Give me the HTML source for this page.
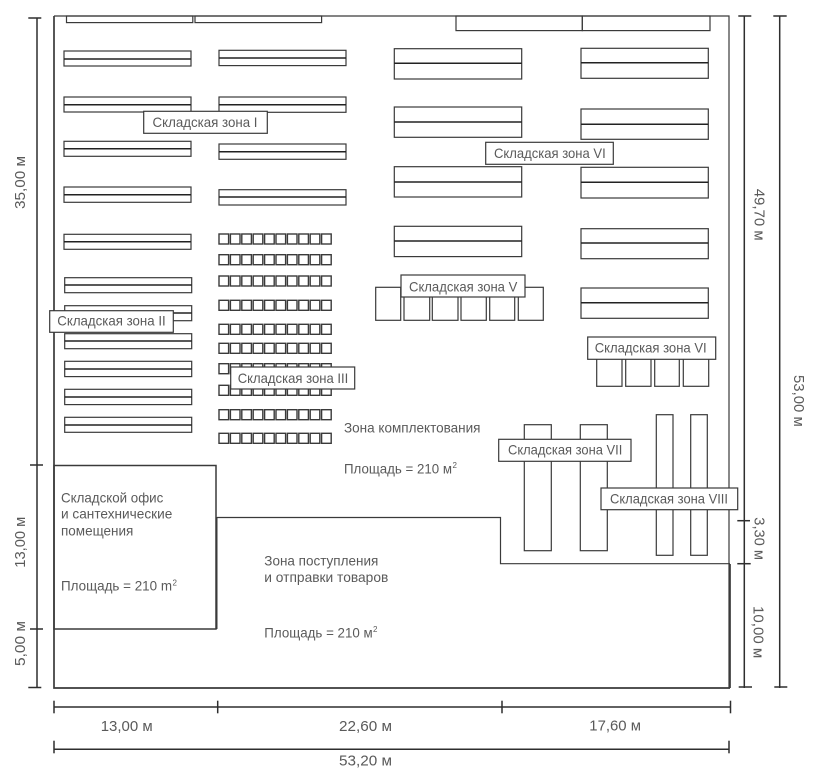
<!DOCTYPE html>
<html lang="ru">
<head>
<meta charset="utf-8">
<title>Складская схема</title>
<style>
html,body{margin:0;padding:0;background:#fff;}
svg{display:block;}
text{font-family:"Liberation Sans","DejaVu Sans",sans-serif;font-size:14px;fill:#5a5a5a;}
.dt{font-size:15px;}
.sup{font-size:8px;}
.s rect,.s line,.s path{fill:none;stroke:#3a3a3a;stroke-width:1.2;}
.d line{stroke:#2e2e2e;stroke-width:1.5;fill:none;}
.l{fill:#fff;stroke:#3a3a3a;stroke-width:1.2;}
.m{stroke:#222;stroke-width:1.5;}
</style>
</head>
<body>
<svg xmlns="http://www.w3.org/2000/svg" width="818" height="778" viewBox="0 0 818 778">
<defs>
<g id="row" fill="none" stroke="#3a3a3a" stroke-width="1.4">
<rect x="219" y="0" width="9.6" height="10"/>
<rect x="230.4" y="0" width="9.6" height="10"/>
<rect x="241.8" y="0" width="9.6" height="10"/>
<rect x="253.2" y="0" width="9.6" height="10"/>
<rect x="264.6" y="0" width="9.6" height="10"/>
<rect x="276" y="0" width="9.6" height="10"/>
<rect x="287.4" y="0" width="9.6" height="10"/>
<rect x="298.8" y="0" width="9.6" height="10"/>
<rect x="310.2" y="0" width="9.6" height="10"/>
<rect x="321.6" y="0" width="9.6" height="10"/>
</g>
</defs>

<!-- building outline -->
<g class="s">
<path d="M54 16H729V688"/>
<path d="M54 16V688H730" style="stroke-width:1.7"/>
<path d="M730 564V688" style="stroke-width:1.7"/>
<rect x="54" y="465.5" width="162" height="163.5" style="stroke-width:1.5"/>
<path d="M217 517.5H500.5V563.7H730"/>
<path d="M216.7 517V629" style="stroke-width:1.6"/>

<!-- top bins -->
<rect x="66.5" y="16" width="126.3" height="6.6"/>
<rect x="195" y="16" width="126.6" height="6.6"/>
<rect x="456" y="16" width="126.3" height="14.6"/>
<rect x="582.3" y="16" width="127.7" height="14.6"/>

<!-- column 1 racks -->
<rect x="64" y="51" width="127" height="15"/>
<rect x="64" y="97" width="127" height="15"/>
<rect x="64" y="141.3" width="127" height="15"/>
<rect x="64" y="187" width="127" height="15.3"/>
<rect x="64" y="234.3" width="127" height="15"/>
<rect x="64.7" y="277.7" width="127" height="15"/>
<rect x="64.7" y="305.7" width="127" height="15"/>
<rect x="64.7" y="333.7" width="127" height="15"/>
<rect x="64.7" y="361.3" width="127" height="15.3"/>
<rect x="64.7" y="389.3" width="127" height="15.3"/>
<rect x="64.7" y="417.3" width="127" height="15"/>

<!-- column 2 racks -->
<rect x="219" y="50.3" width="127" height="15.3"/>
<rect x="219" y="97" width="127" height="15.3"/>
<rect x="219" y="144" width="127" height="15.3"/>
<rect x="219" y="189.7" width="127" height="15.3"/>

<!-- right racks A -->
<rect x="394.3" y="48.7" width="127.4" height="30.3"/>
<rect x="394.3" y="107" width="127.4" height="30.3"/>
<rect x="394.3" y="166.7" width="127.4" height="30.3"/>
<rect x="394.3" y="226.3" width="127.4" height="30.3"/>

<!-- right racks B -->
<rect x="581" y="48.3" width="127.3" height="30"/>
<rect x="581" y="109" width="127.3" height="30.3"/>
<rect x="581" y="167.3" width="127.3" height="30.7"/>
<rect x="581" y="228.7" width="127.3" height="30"/>
<rect x="581" y="288" width="127.3" height="30.3"/>

<!-- zone V boxes -->
<rect x="375.7" y="287.3" width="25" height="33"/>
<rect x="404" y="290" width="25.7" height="30.3"/>
<rect x="432.3" y="290" width="25.7" height="30.3"/>
<rect x="461" y="290" width="25.3" height="30.3"/>
<rect x="489.7" y="290" width="25" height="30.3"/>
<rect x="518.3" y="287.3" width="25" height="33"/>

<!-- zone VI boxes -->
<rect x="596.7" y="353" width="25.3" height="33.3"/>
<rect x="625.7" y="353" width="25.3" height="33.3"/>
<rect x="654.7" y="353" width="24.6" height="33.3"/>
<rect x="683.3" y="353" width="25.4" height="33.3"/>

<!-- zone VII, VIII racks -->
<rect x="524.3" y="424.7" width="27" height="126"/>
<rect x="580.3" y="424.7" width="27" height="126"/>
<rect x="656.3" y="414.7" width="16.7" height="140.6"/>
<rect x="690.7" y="414.7" width="16.6" height="140.6"/>
</g>

<!-- rack mid lines -->
<g class="m">
<line x1="64" x2="191" y1="59" y2="59"/>
<line x1="64" x2="191" y1="104.7" y2="104.7"/>
<line x1="64" x2="191" y1="148.7" y2="148.7"/>
<line x1="64" x2="191" y1="194.7" y2="194.7"/>
<line x1="64" x2="191" y1="241.7" y2="241.7"/>
<line x1="64.7" x2="191.7" y1="285" y2="285"/>
<line x1="64.7" x2="191.7" y1="313" y2="313"/>
<line x1="64.7" x2="191.7" y1="341" y2="341"/>
<line x1="64.7" x2="191.7" y1="369" y2="369"/>
<line x1="64.7" x2="191.7" y1="397" y2="397"/>
<line x1="64.7" x2="191.7" y1="425" y2="425"/>
<line x1="219" x2="346" y1="58" y2="58"/>
<line x1="219" x2="346" y1="104.7" y2="104.7"/>
<line x1="219" x2="346" y1="151.7" y2="151.7"/>
<line x1="219" x2="346" y1="197" y2="197"/>
<line x1="394.3" x2="521.7" y1="63.3" y2="63.3"/>
<line x1="394.3" x2="521.7" y1="122" y2="122"/>
<line x1="394.3" x2="521.7" y1="182" y2="182"/>
<line x1="394.3" x2="521.7" y1="241" y2="241"/>
<line x1="581" x2="708.3" y1="62.7" y2="62.7"/>
<line x1="581" x2="708.3" y1="124.3" y2="124.3"/>
<line x1="581" x2="708.3" y1="182.3" y2="182.3"/>
<line x1="581" x2="708.3" y1="243" y2="243"/>
<line x1="581" x2="708.3" y1="302.7" y2="302.7"/>
</g>

<!-- square rows -->
<use href="#row" y="234"/>
<use href="#row" y="254.7"/>
<use href="#row" y="276"/>
<use href="#row" y="300.3"/>
<use href="#row" y="324.3"/>
<use href="#row" y="343.3"/>
<use href="#row" y="363.7"/>
<use href="#row" y="385.3"/>
<use href="#row" y="409.7"/>
<use href="#row" y="433.3"/>

<!-- zone labels -->
<rect class="l" x="143.7" y="111.3" width="123.6" height="22"/>
<text x="152.5" y="127" textLength="105" lengthAdjust="spacingAndGlyphs">Складская зона I</text>
<rect class="l" x="49.7" y="310.7" width="123.6" height="21.6"/>
<text x="57.3" y="325.7" textLength="108.4" lengthAdjust="spacingAndGlyphs">Складская зона II</text>
<rect class="l" x="230.7" y="367" width="124" height="22"/>
<text x="237.7" y="383" textLength="110.6" lengthAdjust="spacingAndGlyphs">Складская зона III</text>
<rect class="l" x="485.7" y="142.3" width="127.6" height="22"/>
<text x="494" y="158" textLength="111.7" lengthAdjust="spacingAndGlyphs">Складская зона VI</text>
<rect class="l" x="401" y="275" width="124" height="22"/>
<text x="409" y="291.3" textLength="108.3" lengthAdjust="spacingAndGlyphs">Складская зона V</text>
<rect class="l" x="587.7" y="337" width="128" height="22.3"/>
<text x="594.7" y="352.3" textLength="112" lengthAdjust="spacingAndGlyphs">Складская зона VI</text>
<rect class="l" x="498.7" y="439.3" width="132.3" height="22"/>
<text x="508" y="454.7" textLength="114.3" lengthAdjust="spacingAndGlyphs">Складская зона VII</text>
<rect class="l" x="601" y="488" width="136.7" height="21.7"/>
<text x="610" y="503.3" textLength="118" lengthAdjust="spacingAndGlyphs">Складская зона VIII</text>

<!-- area text -->
<text x="344" y="432.7" textLength="136.5" lengthAdjust="spacingAndGlyphs">Зона комплектования</text>
<text x="344" y="473.3" textLength="108" lengthAdjust="spacingAndGlyphs">Площадь = 210 м</text>
<text class="sup" x="452.5" y="468">2</text>
<text x="61" y="502.7" textLength="102.3" lengthAdjust="spacingAndGlyphs">Складской офис</text>
<text x="61" y="518.7" textLength="111.3" lengthAdjust="spacingAndGlyphs">и сантехнические</text>
<text x="61" y="535.3" textLength="72.3" lengthAdjust="spacingAndGlyphs">помещения</text>
<text x="61" y="590.7" textLength="111" lengthAdjust="spacingAndGlyphs">Площадь = 210 m</text>
<text class="sup" x="172.5" y="585.5">2</text>
<text x="264.3" y="565.7" textLength="114" lengthAdjust="spacingAndGlyphs">Зона поступления</text>
<text x="264.3" y="582" textLength="124" lengthAdjust="spacingAndGlyphs">и отправки товаров</text>
<text x="264.3" y="637.3" textLength="108.4" lengthAdjust="spacingAndGlyphs">Площадь = 210 м</text>
<text class="sup" x="373" y="632">2</text>

<!-- dimension lines -->
<g class="d">
<line x1="37" x2="37" y1="18" y2="688"/>
<line x1="28.3" x2="41.3" y1="18" y2="18"/>
<line x1="30" x2="43" y1="465" y2="465"/>
<line x1="30" x2="43" y1="629" y2="629"/>
<line x1="28.3" x2="41.3" y1="687.5" y2="687.5"/>

<line x1="744.3" x2="744.3" y1="16" y2="688"/>
<line x1="738.3" x2="751.3" y1="16" y2="16"/>
<line x1="737.3" x2="750" y1="520.7" y2="520.7"/>
<line x1="737.3" x2="750.7" y1="563.7" y2="563.7"/>
<line x1="738.7" x2="752" y1="687" y2="687"/>

<line x1="779.7" x2="779.7" y1="16" y2="688"/>
<line x1="773.3" x2="786.7" y1="16" y2="16"/>
<line x1="774.3" x2="787.3" y1="687" y2="687"/>

<line x1="54" x2="730.5" y1="707" y2="707"/>
<line x1="54" x2="54" y1="700.7" y2="713.3"/>
<line x1="217.7" x2="217.7" y1="700.7" y2="713.3"/>
<line x1="502" x2="502" y1="700.7" y2="713.3"/>
<line x1="730.5" x2="730.5" y1="700.7" y2="713.3"/>

<line x1="54" x2="729" y1="749.3" y2="749.3"/>
<line x1="54" x2="54" y1="740.7" y2="753.3"/>
<line x1="729" x2="729" y1="740.7" y2="753.3"/>
</g>

<!-- dimension text -->
<text class="dt" x="100.7" y="731" textLength="52" lengthAdjust="spacingAndGlyphs">13,00 м</text>
<text class="dt" x="339" y="731" textLength="53" lengthAdjust="spacingAndGlyphs">22,60 м</text>
<text class="dt" x="589.3" y="730.7" textLength="51.7" lengthAdjust="spacingAndGlyphs">17,60 м</text>
<text class="dt" x="339" y="765.7" textLength="53" lengthAdjust="spacingAndGlyphs">53,20 м</text>

<text class="dt" transform="translate(25 209) rotate(-90)" textLength="53" lengthAdjust="spacingAndGlyphs">35,00 м</text>
<text class="dt" transform="translate(25 567.7) rotate(-90)" textLength="51" lengthAdjust="spacingAndGlyphs">13,00 м</text>
<text class="dt" transform="translate(25 666) rotate(-90)" textLength="45" lengthAdjust="spacingAndGlyphs">5,00 м</text>

<text class="dt" transform="translate(754.3 188.7) rotate(90)" textLength="52" lengthAdjust="spacingAndGlyphs">49,70 м</text>
<text class="dt" transform="translate(794 375) rotate(90)" textLength="51.7" lengthAdjust="spacingAndGlyphs">53,00 м</text>
<text class="dt" transform="translate(754.3 517.3) rotate(90)" textLength="42.7" lengthAdjust="spacingAndGlyphs">3,30 м</text>
<text class="dt" transform="translate(753.3 606) rotate(90)" textLength="52.3" lengthAdjust="spacingAndGlyphs">10,00 м</text>
</svg>
</body>
</html>
